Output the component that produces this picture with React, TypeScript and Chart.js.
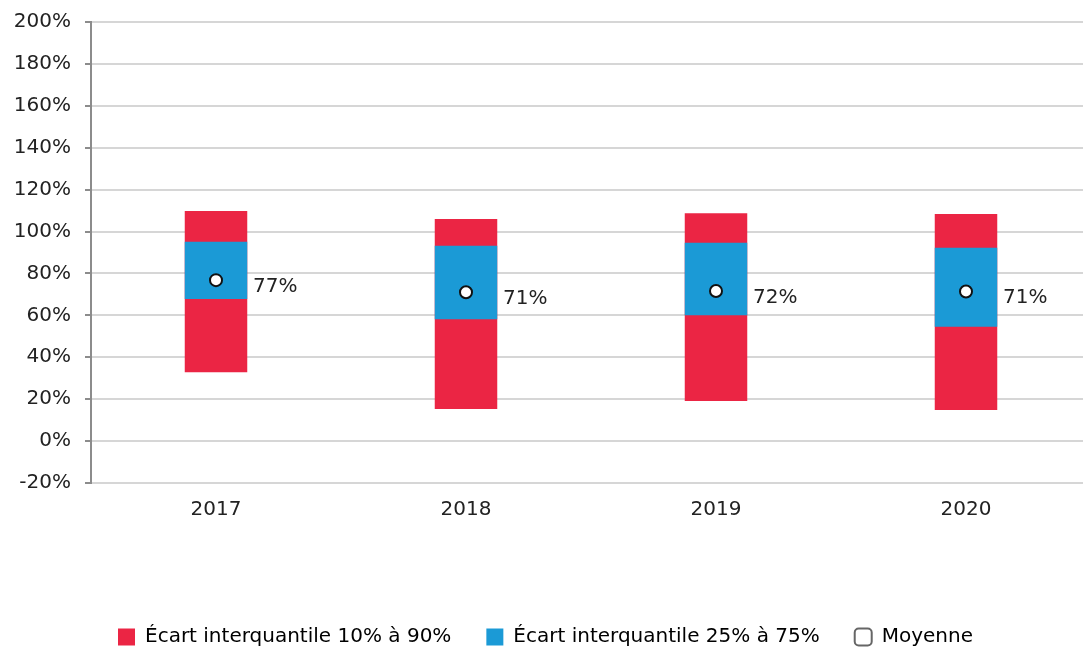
import React, { useEffect, useRef } from "react";
import { Chart, registerables } from "chart.js";

Chart.register(...registerables);

const categories = ["2017", "2018", "2019", "2020"];
const p10 = [32.8, 15.3, 19.1, 14.8];
const p90 = [109.8, 106.0, 108.7, 108.4];
const p25 = [67.8, 58.2, 60.1, 54.6];
const p75 = [95.1, 93.2, 94.7, 92.3];
const mean = [76.8, 71.0, 71.6, 71.4];
const meanLabels = ["77%", "71%", "72%", "71%"];
const seriesNames = ["Écart interquantile 10% à 90%", "Écart interquantile 25% à 75%", "Moyenne"];

const RED = "#EB2544";
const BLUE = "#1B9AD6";
const FONT = "'DejaVu Sans', sans-serif";

const meanLabelPlugin = {
  id: "meanLabels",
  afterDatasetsDraw(chart: any) {
    const meta = chart.getDatasetMeta(2);
    const ctx = chart.ctx;
    ctx.save();
    ctx.font = `20px ${FONT}`;
    ctx.fillStyle = "#222";
    ctx.textAlign = "left";
    ctx.textBaseline = "middle";
    meta.data.forEach((pt: any, i: number) => {
      ctx.fillText(meanLabels[i], pt.x + 37, pt.y + 6.5);
    });
    ctx.restore();
  },
};

export default function App() {
  const ref = useRef<HTMLCanvasElement>(null);
  useEffect(() => {
    if (!ref.current) return;
    Chart.defaults.font.family = FONT;
    const chart = new Chart(ref.current, {
      type: "bar",
      data: {
        labels: categories,
        datasets: [
          {
            label: seriesNames[0],
            data: p10.map((v, i) => [v, p90[i]]),
            backgroundColor: RED,
            grouped: false,
            barPercentage: 0.25,
            categoryPercentage: 1,
            order: 2,
          } as any,
          {
            label: seriesNames[1],
            data: p25.map((v, i) => [v, p75[i]]),
            backgroundColor: BLUE,
            grouped: false,
            barPercentage: 0.25,
            categoryPercentage: 1,
            order: 1,
          } as any,
          {
            type: "line",
            label: seriesNames[2],
            data: mean,
            showLine: false,
            pointRadius: 6,
            pointBorderWidth: 2,
            pointBackgroundColor: "#fff",
            pointBorderColor: "#111",
            order: 0,
          } as any,
        ],
      },
      options: {
        responsive: false,
        animation: false,
        layout: { autoPadding: false, padding: { top: 22, left: 0, right: 0, bottom: 0 } },
        plugins: {
          tooltip: { enabled: false },
          legend: {
            position: "bottom",
            labels: {
              font: { size: 20, family: FONT },
              color: "#222",
              boxWidth: 17,
              boxHeight: 17,
              padding: 35,
              useBorderRadius: true,
              generateLabels: () => [
                { text: seriesNames[0], fillStyle: RED, strokeStyle: RED, lineWidth: 0, datasetIndex: 0 },
                { text: seriesNames[1], fillStyle: BLUE, strokeStyle: BLUE, lineWidth: 0, datasetIndex: 1 },
                { text: seriesNames[2], fillStyle: "#fff", strokeStyle: "#666", lineWidth: 2, borderRadius: 4, datasetIndex: 2 },
              ] as any,
            },
          },
        },
        scales: {
          x: {
            grid: { display: false, drawTicks: false },
            border: { display: false },
            ticks: { font: { size: 20 }, color: "#222", padding: 15 },
            afterFit: (s: any) => { s.height = 109; s.paddingLeft = 0; s.paddingRight = 0; },
          },
          y: {
            min: -20,
            max: 200,
            ticks: {
              stepSize: 20,
              font: { size: 20 },
              color: "#222",
              padding: 14,
              callback: (v: any) => `${v}%`,
            },
            grid: { color: "#d6d6d6", lineWidth: 2, tickColor: "#8c8c8c", tickLength: 6 },
            border: { color: "#8c8c8c", width: 2 },
            afterFit: (s: any) => { s.width = 91; s.paddingTop = 0; s.paddingBottom = 0; },
          },
        },
      },
      plugins: [meanLabelPlugin],
    });
    return () => chart.destroy();
  }, []);
  return (
    <div style={{ position: "fixed", left: 0, top: 0, width: 1083, height: 651, overflow: "hidden", background: "#fff" }}>
      <canvas ref={ref} width={1091} height={657} style={{ display: "block" }} />
    </div>
  );
}
